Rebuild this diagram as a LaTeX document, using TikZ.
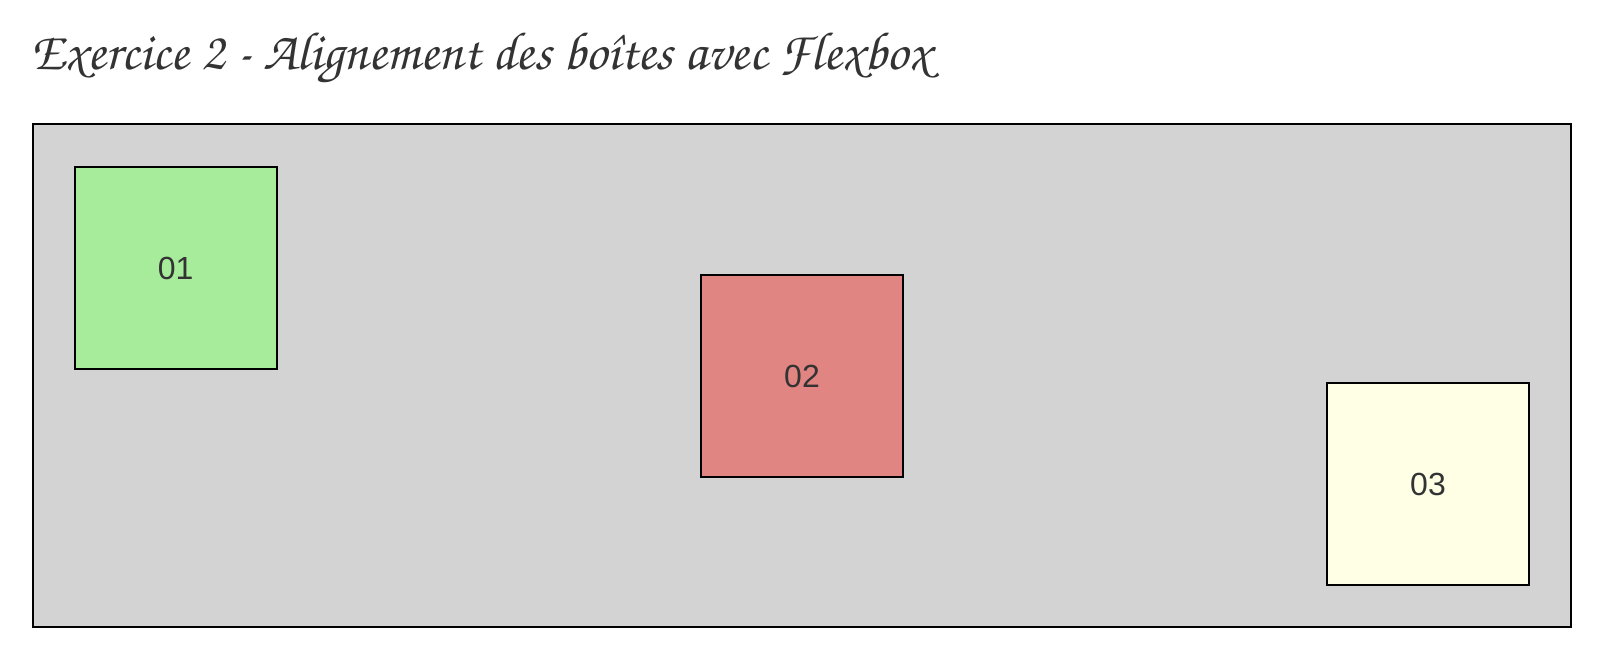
\documentclass[tikz,border=0pt]{standalone}
\usepackage{fontspec}
\setsansfont{Liberation Sans}
\usepackage{tikz}

\definecolor{boxgray}{HTML}{D3D3D3}
\definecolor{boxgreen}{HTML}{A7EC9A}
\definecolor{boxred}{HTML}{E18583}
\definecolor{boxyellow}{HTML}{FFFFE6}
\definecolor{txtgray}{HTML}{333333}

\tikzset{
    flexbox/.style={draw=black, line width=1.5pt, fill=boxgray, minimum width=1153.5pt, minimum height=376.5pt, inner sep=0pt},
    flexitem/.style={draw=black, line width=1.5pt, minimum size=151.5pt, inner sep=0pt, text=txtgray, font=\sffamily\fontsize{24}{28}\selectfont}
}

\begin{document}
\begin{tikzpicture}[x=0.75pt, y=-0.75pt]
                \useasboundingbox (0, 0) rectangle (1610, 670);
                \node[anchor=base west, inner sep=0pt, text=txtgray] (title) at (31, 70) {\fontsize{40.3}{44}\usefont{OT1}{pzc}{mb}{it}Exercice 2 - Alignement des bo\^{\i}tes avec Flexbox};
                \node[flexbox] (container) at (801.5, 375.5) {};
                \node[flexitem, fill=boxgreen] (item1) at (175.7, 268) {01};
                \node[flexitem, fill=boxred] (item2) at (802, 376) {02};
                \node[flexitem, fill=boxyellow] (item3) at (1428, 484) {03};
            \end{tikzpicture}
\end{document}
